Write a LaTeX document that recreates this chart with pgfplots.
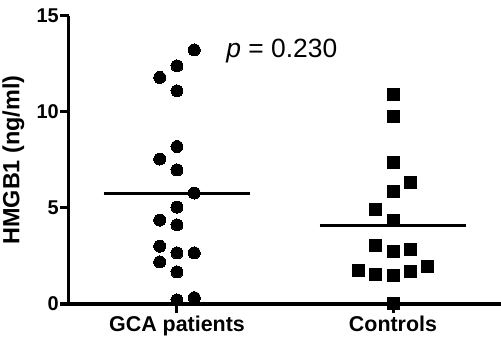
\documentclass[border=0pt]{standalone}
\usepackage{fontspec}
\setmainfont{Liberation Sans}
\usepackage{pgfplots}
\pgfplotsset{compat=1.18}
\begin{document}
\begin{tikzpicture}
\useasboundingbox (-69bp,-36bp) rectangle (432bp,304bp);
\begin{axis}[
  scale only axis,
  width=432bp, height=288bp,
  xmin=0.5, xmax=2.5, ymin=0, ymax=15,
  axis x line*=bottom, axis y line*=left,
  axis line style={line width=3bp, black},
  every tick/.style={line width=3bp, black},
  tick align=outside,
  major tick length=9bp,
  xtick={1,2}, xticklabels={GCA patients, Controls},
  ytick={0,5,10,15}, yticklabels={0,5,10,15},
  yticklabel style={font=\fontsize{20}{22}\selectfont\bfseries, inner sep=1bp},
  xticklabel style={font=\fontsize{21.5}{24}\selectfont\bfseries, inner sep=1bp, yshift=-2bp},
  ylabel={HMGB1 (ng/ml)},
  ylabel style={font=\fontsize{23.5}{26}\selectfont\bfseries, at={(axis description cs:-0.1285,0.5)}, anchor=center, rotate=0},
  clip=false,
]
\addplot[black, line width=3bp] coordinates {(0.66,5.78) (1.34,5.78)};
\addplot[black, line width=3bp] coordinates {(1.66,4.11) (2.34,4.11)};
\addplot[only marks, mark=*, mark size=6bp, mark options={fill=black, draw=black, line width=0pt}] coordinates {
(1.08,13.23) (1,12.4) (0.92,11.8) (1,11.1) (1,8.2) (0.92,7.55) (1,6.98) (1.08,5.78) (1,5.05) (0.92,4.37) (1,4.12) (0.92,3.01) (1,2.66) (1.08,2.66) (0.92,2.19) (1,1.67) (1,0.21) (1.08,0.33)
};
\addplot[only marks, mark=square*, mark size=6bp, mark options={fill=black, draw=black, line width=0pt}] coordinates {
(2,10.9) (2,9.75) (2,7.38) (2.08,6.35) (2,5.85) (1.92,4.9) (2,4.37) (1.92,3.07) (2,2.72) (2.08,2.85) (1.84,1.73) (1.92,1.56) (2,1.5) (2.08,1.67) (2.16,1.93) (2,0.05)
};
\node[anchor=base west, inner sep=0pt, font=\fontsize{26.5}{30}\selectfont] at (axis cs:1.228,12.85) {\textit{p} = 0.230};
\end{axis}
\end{tikzpicture}
\end{document}
